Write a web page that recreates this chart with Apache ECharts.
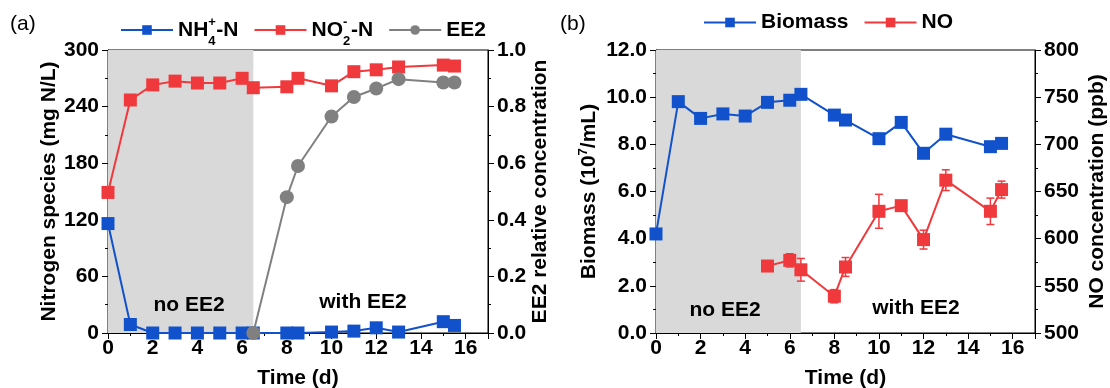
<!DOCTYPE html>
<html>
<head>
<meta charset="utf-8">
<script src="https://cdn.jsdelivr.net/npm/echarts@6/dist/echarts.min.js"></script>
<style>
  html, body { margin: 0; padding: 0; background: #fff; }
  #chart { width: 1110px; height: 388px; }
</style>
</head>
<body>
<div id="chart"></div>
<script>
// panel (a)
const timeA = [0, 1, 2, 3, 4, 5, 6, 6.5, 8, 8.5, 10, 11, 12, 13, 15, 15.5];
const nh4 = [116, 9, 0, 0, 0, 0, 0, 0, 0, 0, 1, 2, 5.5, 1, 12, 8];
const no2 = [149, 247, 263, 267, 265, 265, 270, 260, 261, 270, 262, 277, 279, 282, 284, 283];
const timeEE2 = [6.5, 8, 8.5, 10, 11, 12, 13, 15, 15.5];
const ee2 = [0, 0.48, 0.59, 0.765, 0.834, 0.864, 0.897, 0.885, 0.885];

// panel (b)
const timeBio = [0, 1, 2, 3, 4, 5, 6, 6.5, 8, 8.5, 10, 11, 12, 13, 15, 15.5];
const biomass = [4.2, 9.81, 9.1, 9.29, 9.2, 9.78, 9.87, 10.12, 9.24, 9.03, 8.24, 8.93, 7.62, 8.43, 7.9, 8.04];
const biomassErr = [0, 0, 0, 0, 0, 0.2, 0, 0, 0, 0, 0, 0, 0, 0, 0, 0];
const timeNO = [5, 6, 6.5, 8, 8.5, 10, 11, 12, 13, 15, 15.5];
const no = [571, 577, 567, 539, 570, 629, 635, 599, 662, 629, 652];
const noErr = [3, 7, 12, 7, 10, 18, 5, 10, 11, 14, 9];

const BLUE = '#1152cc';
const RED = '#f0393d';
const GRAY = '#808080';
const FONT = 'Liberation Sans';
const FS = 21;

const zip = (xs, ys) => xs.map((x, i) => [x, ys[i]]);
const errData = (xs, ys, es) => xs.map((x, i) => [x, ys[i] - es[i], ys[i] + es[i]]).filter((d, i) => es[i] > 0);

const errorBar = (color) => (params, api) => {
  const x = api.value(0);
  const lo = api.coord([x, api.value(1)]);
  const hi = api.coord([x, api.value(2)]);
  const w = 4;
  const style = { stroke: color, lineWidth: 1.5 };
  return {
    type: 'group',
    children: [
      { type: 'line', shape: { x1: lo[0], y1: lo[1], x2: hi[0], y2: hi[1] }, style },
      { type: 'line', shape: { x1: lo[0] - w, y1: lo[1], x2: lo[0] + w, y2: lo[1] }, style },
      { type: 'line', shape: { x1: hi[0] - w, y1: hi[1], x2: hi[0] + w, y2: hi[1] }, style },
    ],
  };
};

const labelStyle = { fontFamily: FONT, fontWeight: 'bold', fontSize: FS, color: '#000' };
const nameStyle = { fontFamily: FONT, fontWeight: 'bold', fontSize: FS, color: '#000' };

const xAxisBase = (gridIndex) => ({
  type: 'value',
  gridIndex,
  min: 0,
  max: 17,
  interval: 2,
  name: 'Time (d)',
  nameLocation: 'middle',
  nameGap: 35,
  nameTextStyle: nameStyle,
  axisLine: { lineStyle: { color: '#000', width: 1 } },
  axisTick: { length: 6, lineStyle: { color: '#000' } },
  minorTick: { show: true, splitNumber: 2, length: 3, lineStyle: { color: '#000' } },
  splitLine: { show: false },
  axisLabel: Object.assign({ margin: 5, showMaxLabel: false, formatter: (v) => (v > 16 ? '' : v) }, labelStyle),
});

const yAxisBase = (gridIndex, position, min, max, interval, fmt, name, gap) => ({
  type: 'value',
  gridIndex,
  position,
  min,
  max,
  interval,
  name,
  nameLocation: 'middle',
  nameGap: gap,
  nameRotate: 90,
  nameTextStyle: Object.assign({}, nameStyle, {
    rich: {
      b: { fontFamily: FONT, fontWeight: 'bold', fontSize: FS, color: '#000' },
      sup: { fontFamily: FONT, fontWeight: 'bold', fontSize: 13, color: '#000', verticalAlign: 'top', lineHeight: 24 },
    },
  }),
  axisLine: { show: true, lineStyle: { color: '#000', width: 1 } },
  axisTick: { show: true, length: 6, lineStyle: { color: '#000' } },
  minorTick: { show: true, splitNumber: 2, length: 3, lineStyle: { color: '#000' } },
  splitLine: { show: false },
  axisLabel: Object.assign({ margin: 9, formatter: fmt }, labelStyle),
});

const legendNames = {
  NH4: '{b|NH}{sup|+}{sub|4}{b|-N}',
  NO2: '{b|NO}{sup|-}{sub|2}{b|-N}',
  EE2: '{b|EE2}',
  Biomass: '{b|Biomass}',
  NO: '{b|NO}',
};
const legendText = {
  fontFamily: FONT,
  fontWeight: 'bold',
  fontSize: FS,
  color: '#000',
  rich: {
    b: { fontFamily: FONT, fontWeight: 'bold', fontSize: FS, color: '#000', lineHeight: 36 },
    sup: { fontFamily: FONT, fontWeight: 'bold', fontSize: 13, color: '#000', verticalAlign: 'top', lineHeight: 36, padding: [4, 0, 0, 0], width: 0 },
    sub: { fontFamily: FONT, fontWeight: 'bold', fontSize: 13, color: '#000', verticalAlign: 'bottom', lineHeight: 36, width: 8 },
  },
};

const shade = (xi, yi) => ({
  type: 'line',
  xAxisIndex: xi,
  yAxisIndex: yi,
  data: [],
  z: 1,
  silent: true,
  markArea: {
    silent: true,
    itemStyle: { color: '#d9d9d9' },
    data: [[{ xAxis: 0 }, { xAxis: 6.5 }]],
  },
});

const note = (x, y, text) => ({
  type: 'text',
  x,
  y,
  z: 100,
  style: { text, font: 'bold 21px "Liberation Sans"', fill: '#000', align: 'center', verticalAlign: 'middle' },
});

const chart = echarts.init(document.getElementById('chart'));

chart.setOption({
  animation: false,
  backgroundColor: '#fff',
  grid: [
    { left: 108, top: 50, width: 380, height: 283, outerBoundsMode: 'none', containLabel: false, show: true, borderColor: '#000', borderWidth: 1, backgroundColor: 'transparent' },
    { left: 656, top: 50, width: 379, height: 283, outerBoundsMode: 'none', containLabel: false, show: true, borderColor: '#000', borderWidth: 1, backgroundColor: 'transparent' },
  ],
  legend: [
    {
      data: ['NH4', 'NO2', 'EE2'],
      left: 120,
      top: 12,
      padding: 0,
      itemWidth: 52,
      itemHeight: 12,
      itemGap: 15,
      formatter: (n) => legendNames[n],
      textStyle: legendText,
    },
    {
      data: ['Biomass', 'NO'],
      left: 703,
      top: 12,
      padding: 0,
      itemWidth: 52,
      itemHeight: 12,
      itemGap: 15,
      formatter: (n) => legendNames[n],
      textStyle: legendText,
    },
  ],
  xAxis: [xAxisBase(0), xAxisBase(1)],
  yAxis: [
    yAxisBase(0, 'left', 0, 300, 60, (v) => v, 'Nitrogen species (mg N/L)', 48),
    yAxisBase(0, 'right', 0, 1, 0.2, (v) => v.toFixed(1), 'EE2 relative concentration', 41),
    yAxisBase(1, 'left', 0, 12, 2, (v) => v.toFixed(1), '{b|Biomass (10}{sup|7}{b|/mL)}', 55),
    yAxisBase(1, 'right', 500, 800, 50, (v) => v, 'NO concentration (ppb)', 52),
  ],
  graphic: [
    { type: 'text', left: 10, top: 14, z: 100, style: { text: '(a)', font: '21px "Liberation Sans"', fill: '#000' } },
    { type: 'text', left: 560, top: 14, z: 100, style: { text: '(b)', font: '21px "Liberation Sans"', fill: '#000' } },
    note(189, 305, 'no EE2'),
    note(363, 302, 'with EE2'),
    note(725, 310, 'no EE2'),
    note(916, 308, 'with EE2'),
  ],
  series: [
    shade(0, 0),
    shade(1, 2),
    {
      name: 'NH4',
      type: 'line',
      xAxisIndex: 0,
      yAxisIndex: 0,
      data: zip(timeA, nh4),
      symbol: 'rect',
      symbolSize: 13,
      z: 3,
      lineStyle: { color: BLUE, width: 2 },
      itemStyle: { color: BLUE },
    },
    {
      name: 'NO2',
      type: 'line',
      xAxisIndex: 0,
      yAxisIndex: 0,
      data: zip(timeA, no2),
      symbol: 'rect',
      symbolSize: 13,
      z: 3,
      lineStyle: { color: RED, width: 2 },
      itemStyle: { color: RED },
    },
    {
      name: 'EE2',
      type: 'line',
      xAxisIndex: 0,
      yAxisIndex: 1,
      data: zip(timeEE2, ee2),
      symbol: 'circle',
      symbolSize: 14,
      z: 4,
      lineStyle: { color: GRAY, width: 2 },
      itemStyle: { color: GRAY },
    },
    {
      type: 'custom',
      xAxisIndex: 1,
      yAxisIndex: 2,
      z: 3,
      silent: true,
      renderItem: errorBar(BLUE),
      data: errData(timeBio, biomass, biomassErr),
    },
    {
      name: 'Biomass',
      type: 'line',
      xAxisIndex: 1,
      yAxisIndex: 2,
      data: zip(timeBio, biomass),
      symbol: 'rect',
      symbolSize: 13,
      z: 4,
      lineStyle: { color: BLUE, width: 2 },
      itemStyle: { color: BLUE },
    },
    {
      type: 'custom',
      xAxisIndex: 1,
      yAxisIndex: 3,
      z: 3,
      silent: true,
      renderItem: errorBar(RED),
      data: errData(timeNO, no, noErr),
    },
    {
      name: 'NO',
      type: 'line',
      xAxisIndex: 1,
      yAxisIndex: 3,
      data: zip(timeNO, no),
      symbol: 'rect',
      symbolSize: 13,
      z: 4,
      lineStyle: { color: RED, width: 2 },
      itemStyle: { color: RED },
    },
  ],
});
</script>
</body>
</html>
